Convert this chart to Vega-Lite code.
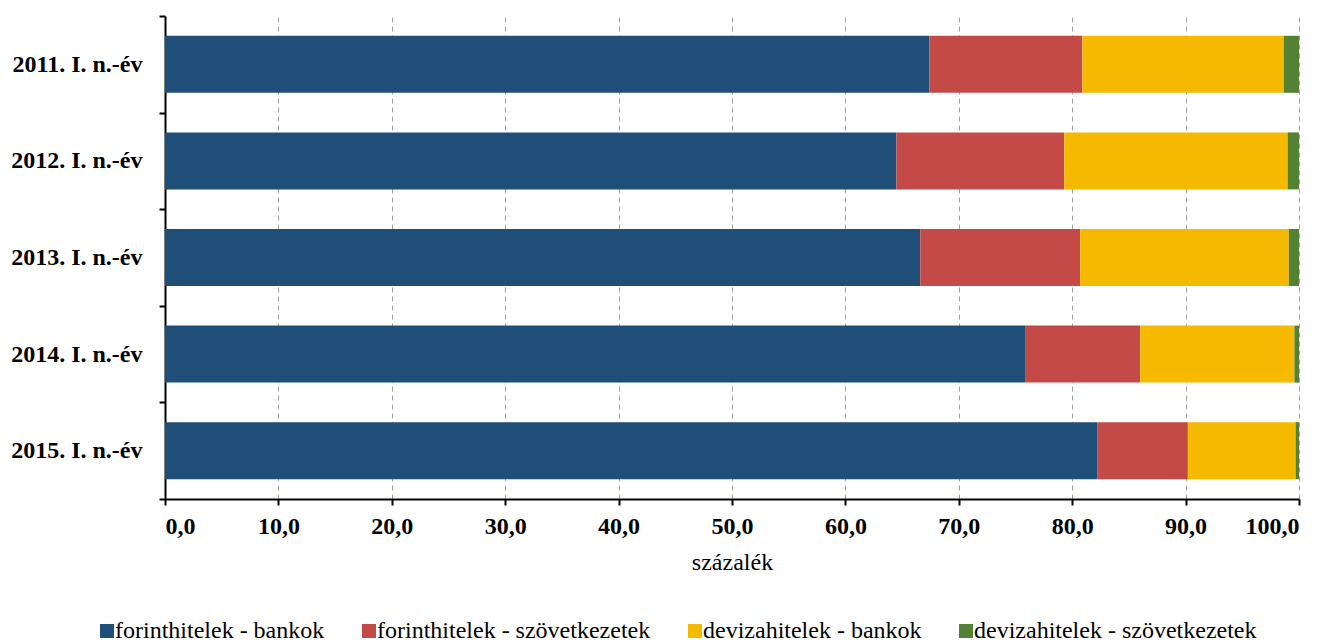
{
  "$schema": "https://vega.github.io/schema/vega-lite/v6.json",
  "autosize": {"type": "none"},
  "width": 1134,
  "height": 483,
  "padding": {"left": 165, "top": 16, "right": 29, "bottom": 143},
  "background": "white",
  "data": {
    "values": [
      {"ev": "2011. I. n.-év", "tipus": "forinthitelek - bankok", "sorrend": 1, "ertek": 67.4},
      {"ev": "2011. I. n.-év", "tipus": "forinthitelek - szövetkezetek", "sorrend": 2, "ertek": 13.5},
      {"ev": "2011. I. n.-év", "tipus": "devizahitelek - bankok", "sorrend": 3, "ertek": 17.75},
      {"ev": "2011. I. n.-év", "tipus": "devizahitelek - szövetkezetek", "sorrend": 4, "ertek": 1.35},
      {"ev": "2012. I. n.-év", "tipus": "forinthitelek - bankok", "sorrend": 1, "ertek": 64.5},
      {"ev": "2012. I. n.-év", "tipus": "forinthitelek - szövetkezetek", "sorrend": 2, "ertek": 14.8},
      {"ev": "2012. I. n.-év", "tipus": "devizahitelek - bankok", "sorrend": 3, "ertek": 19.7},
      {"ev": "2012. I. n.-év", "tipus": "devizahitelek - szövetkezetek", "sorrend": 4, "ertek": 1.0},
      {"ev": "2013. I. n.-év", "tipus": "forinthitelek - bankok", "sorrend": 1, "ertek": 66.6},
      {"ev": "2013. I. n.-év", "tipus": "forinthitelek - szövetkezetek", "sorrend": 2, "ertek": 14.1},
      {"ev": "2013. I. n.-év", "tipus": "devizahitelek - bankok", "sorrend": 3, "ertek": 18.4},
      {"ev": "2013. I. n.-év", "tipus": "devizahitelek - szövetkezetek", "sorrend": 4, "ertek": 0.9},
      {"ev": "2014. I. n.-év", "tipus": "forinthitelek - bankok", "sorrend": 1, "ertek": 75.9},
      {"ev": "2014. I. n.-év", "tipus": "forinthitelek - szövetkezetek", "sorrend": 2, "ertek": 10.1},
      {"ev": "2014. I. n.-év", "tipus": "devizahitelek - bankok", "sorrend": 3, "ertek": 13.6},
      {"ev": "2014. I. n.-év", "tipus": "devizahitelek - szövetkezetek", "sorrend": 4, "ertek": 0.4},
      {"ev": "2015. I. n.-év", "tipus": "forinthitelek - bankok", "sorrend": 1, "ertek": 82.2},
      {"ev": "2015. I. n.-év", "tipus": "forinthitelek - szövetkezetek", "sorrend": 2, "ertek": 8.0},
      {"ev": "2015. I. n.-év", "tipus": "devizahitelek - bankok", "sorrend": 3, "ertek": 9.5},
      {"ev": "2015. I. n.-év", "tipus": "devizahitelek - szövetkezetek", "sorrend": 4, "ertek": 0.3}
    ]
  },
  "mark": {"type": "bar", "height": {"band": 0.59}},
  "encoding": {
    "y": {
      "field": "ev",
      "type": "nominal",
      "sort": null,
      "scale": {"paddingInner": 0, "paddingOuter": 0},
      "axis": {
        "title": null,
        "tickBand": "extent",
        "labelFont": "Liberation Serif",
        "labelFontWeight": "bold",
        "labelFontSize": 24,
        "labelColor": "black",
        "labelPadding": 17,
        "tickColor": "black",
        "tickSize": 6,
        "tickWidth": 2,
        "domainColor": "black",
        "domainWidth": 2,
        "grid": false
      }
    },
    "x": {
      "field": "ertek",
      "type": "quantitative",
      "stack": "zero",
      "scale": {"domain": [0, 100], "nice": false},
      "axis": {
        "title": "százalék",
        "values": [0, 10, 20, 30, 40, 50, 60, 70, 80, 90, 100],
        "labelExpr": "replace(format(datum.value, '.1f'), '.', ',')",
        "labelFont": "Liberation Serif",
        "labelFontWeight": "bold",
        "labelFontSize": 24,
        "labelColor": "black",
        "labelPadding": 9,
        "titleFont": "Liberation Serif",
        "titleFontWeight": "normal",
        "titleFontSize": 24,
        "titleColor": "black",
        "titlePadding": 12,
        "tickColor": "black",
        "tickSize": 6,
        "tickWidth": 2,
        "domainColor": "black",
        "domainWidth": 2,
        "grid": true,
        "gridColor": "#A0A0A0",
        "gridDash": [5, 4],
        "gridWidth": 1
      }
    },
    "color": {
      "field": "tipus",
      "type": "nominal",
      "scale": {
        "domain": ["forinthitelek - bankok", "forinthitelek - szövetkezetek", "devizahitelek - bankok", "devizahitelek - szövetkezetek"],
        "range": ["#1F4E79", "#C44A48", "#F5BA00", "#548235"]
      },
      "legend": {
        "title": null,
        "orient": "none",
        "direction": "horizontal",
        "legendX": -70,
        "legendY": 603,
        "symbolType": "square",
        "symbolSize": 196,
        "symbolStrokeWidth": 0,
        "labelFont": "Liberation Serif",
        "labelFontSize": 24,
        "labelColor": "black",
        "labelOffset": -4,
        "columnPadding": 32,
        "labelLimit": 0
      }
    },
    "order": {"field": "sorrend", "type": "quantitative"}
  },
  "config": {"view": {"stroke": null}}
}
